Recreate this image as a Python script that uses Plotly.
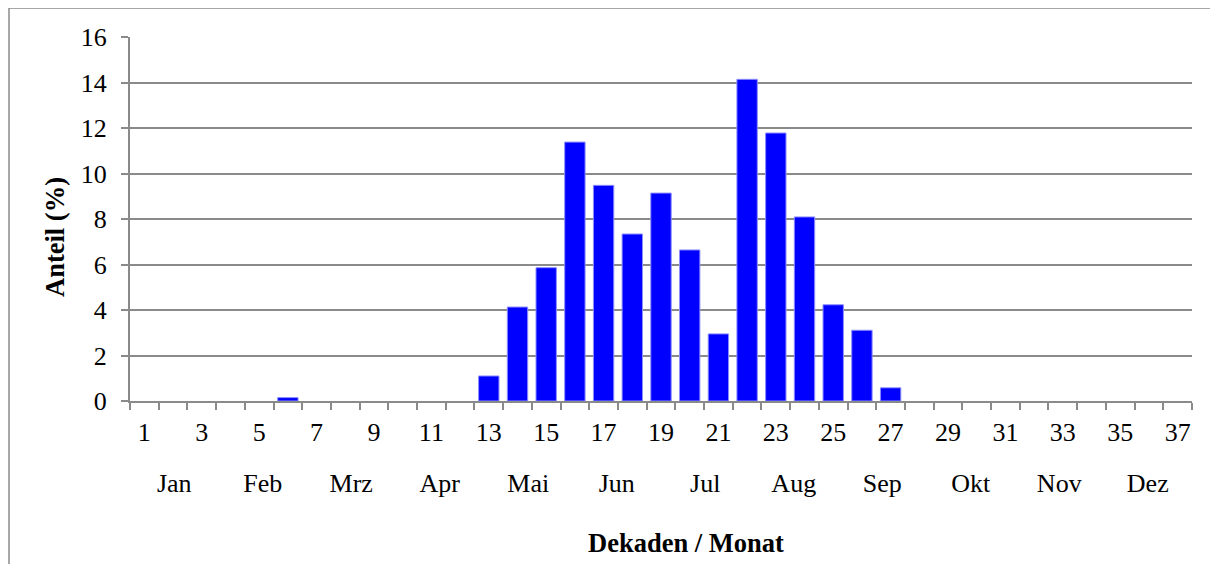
import plotly.graph_objects as go

# Dekaden 1..37 und Anteil in %
dekaden = [str(i) for i in range(1, 38)]
anteil = [0, 0, 0, 0, 0, 0.15, 0, 0, 0, 0, 0, 0,
          1.1, 4.13, 5.86, 11.38, 9.48, 7.34, 9.14, 6.64, 2.95,
          14.14, 11.78, 8.09, 4.23, 3.11, 0.58,
          0, 0, 0, 0, 0, 0, 0, 0, 0, 0]
monate = ['Jan', 'Feb', 'Mrz', 'Apr', 'Mai', 'Jun', 'Jul', 'Aug', 'Sep', 'Okt', 'Nov', 'Dez']

FONT = 'Liberation Serif'
GRAU = '#8a8a8a'
OFF = 8  # Seitenrand des Browsers
W, H = 1218, 564
L, R, T = 130 - OFF, 26 + OFF, 37 - OFF
pw, ph = 1062, 364
B = H - T - ph


def px_x(x):
    return (x - OFF - L) / pw


def px_y(y):
    return (T + ph - (y - OFF)) / ph


fig = go.Figure()
fig.add_trace(go.Bar(
    x=dekaden, y=anteil,
    marker=dict(color='#0000ff',
                line=dict(color='#8c8cff', width=[1 if v > 0 else 0 for v in anteil])),
    showlegend=False
))
# unsichtbare Spur fuer die Monatsachse
fig.add_trace(go.Scatter(
    x=monate, y=[0] * len(monate), xaxis='x2', mode='markers',
    marker=dict(opacity=0), hoverinfo='skip', showlegend=False
))

ticktext = [d if int(d) % 2 == 1 else '' for d in dekaden]

fig.update_layout(
    width=W, height=H,
    margin=dict(l=L, r=R, t=T, b=B),
    plot_bgcolor='white', paper_bgcolor='white',
    bargap=0.29,
    font=dict(family=FONT, size=26, color='black'),
    xaxis=dict(
        type='category', range=[-0.5, 36.5],
        tickvals=dekaden, ticktext=ticktext, tickson='boundaries',
        ticks='outside', ticklen=7, tickwidth=1.5, tickcolor=GRAU,
        showline=True, linecolor=GRAU, linewidth=2, showgrid=False,
        ticklabelstandoff=7, tickangle=0
    ),
    xaxis2=dict(
        type='category', overlaying='x', anchor='y', side='bottom',
        range=[-0.5, 11.5], showline=False, showgrid=False, ticks='',
        ticklabelstandoff=64, tickangle=0
    ),
    yaxis=dict(
        range=[0, 16], dtick=2, ticks='outside', ticklen=7, tickwidth=1.5,
        tickcolor=GRAU, showline=True, linecolor=GRAU, linewidth=2,
        showgrid=True, gridcolor=GRAU, gridwidth=1.5, zeroline=False,
        ticklabelstandoff=9
    ),
)

# Achsentitel
fig.add_annotation(text='<b>Dekaden / Monat</b>', xref='paper', yref='paper',
                   x=px_x(686), y=px_y(543), showarrow=False,
                   font=dict(family=FONT, size=26.5), xanchor='center', yanchor='middle')
fig.add_annotation(text='<b>Anteil (%)</b>', xref='paper', yref='paper',
                   x=px_x(55), y=px_y(237), showarrow=False, textangle=-90,
                   font=dict(family=FONT, size=26.5), xanchor='center', yanchor='middle')

# Rahmen des Diagrammbereichs
fig.add_shape(type='rect', xref='paper', yref='paper',
              x0=px_x(9), x1=px_x(W + 20), y0=px_y(H + 20), y1=px_y(8),
              line=dict(color=GRAU, width=1.5), layer='below')

fig.write_html("out.html")
